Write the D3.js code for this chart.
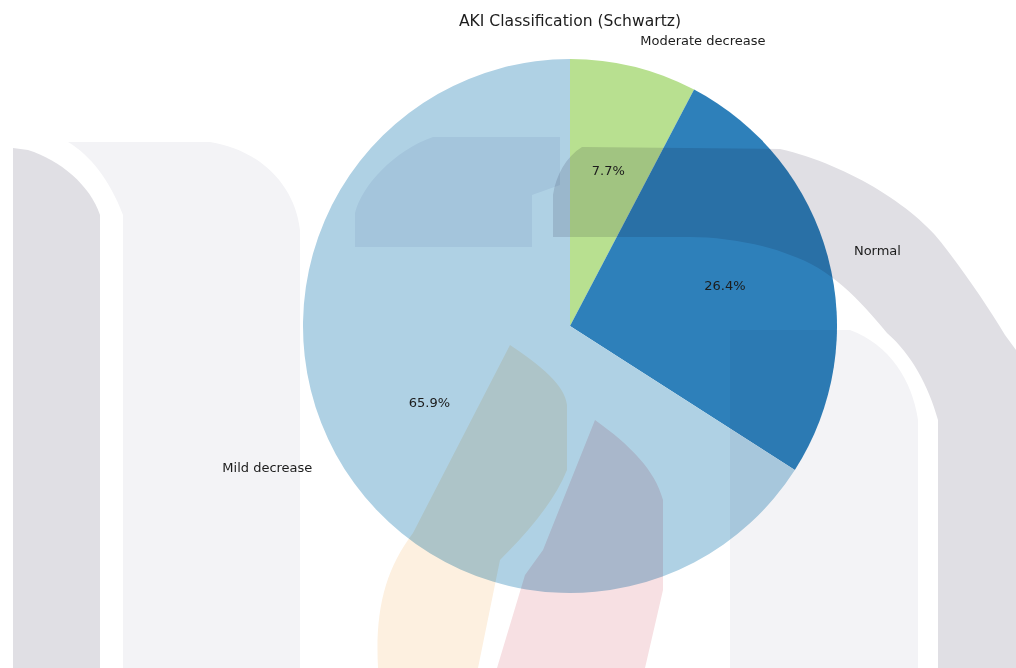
<!DOCTYPE html>
<html>
<head>
<meta charset="utf-8">
<script src="https://cdn.jsdelivr.net/npm/d3@7"></script>
<style>
  body { margin: 0; background: #fff; }
  text { font-family: "DejaVu Sans", sans-serif; fill: #1c1c1c; }
</style>
</head>
<body>
<div id="chart"></div>
<script>
// Data (counts behind the percentages)
var categories = ["Moderate decrease", "Normal", "Mild decrease"];
var counts = [7, 24, 60];
var colors = ["#b8e090", "#2e80ba", "#afd1e4"];
var title = "AKI Classification (Schwartz)";

var width = 1016,
    height = 668;

var cx = 570, cy = 326, radius = 267;

var svg = d3.select("#chart")
            .append("svg")
             .attr("width", width)
             .attr("height", height);

// faint scanned logo that sits over the page
var watermark = [
  { d: "M13,148 L28,150 C60,160 90,185 100,215 L100,668 L13,668 Z", fill: "#e0dfe4" },
  { d: "M68,142 L210,142 C260,150 295,185 300,230 L300,668 L123,668 L123,215 C110,180 90,155 68,142 Z", fill: "#f3f3f6" },
  { d: "M553,237 L553,195 C556,175 566,157 582,147 L780,149 C850,165 920,210 947,250 C970,280 990,310 1005,335 L1016,350 L1016,668 L938,668 L938,420 C928,385 912,355 887,333 C860,300 830,268 790,255 C760,243 720,237 690,237 Z", fill: "#e0dfe4" },
  { d: "M730,668 L730,330 L850,330 C890,345 912,380 918,420 L918,668 Z", fill: "#f3f3f6" },
  { d: "M355,247 L355,213 C362,185 395,150 433,137 L560,137 L560,185 L532,195 L532,247 Z", fill: "#eff1f7" },
  { d: "M510,345 C540,365 565,385 567,405 L567,470 C555,500 530,530 500,560 L478,668 L378,668 C375,610 385,570 413,533 Z", fill: "#fdf0e0" },
  { d: "M595,420 C630,445 655,470 663,500 L663,590 L645,668 L497,668 L525,575 L543,550 Z", fill: "#f7e0e3" }
];

var pie = d3.pie()
            .sort(null)
            .startAngle(0)
            .endAngle(2 * Math.PI)
            .value(function(d) { return d; });

var arcs = pie(counts);
var total = d3.sum(counts);

var arc = d3.arc().innerRadius(0).outerRadius(radius);
var labelArc = d3.arc().innerRadius(radius * 1.1).outerRadius(radius * 1.1);
var pctArc = d3.arc().innerRadius(radius * 0.6).outerRadius(radius * 0.6);

var g = svg.append("g")
           .attr("transform", "translate(" + cx + "," + cy + ")");

g.selectAll(".slice")
 .data(arcs)
 .enter()
 .append("path")
  .attr("class", "slice")
  .attr("d", arc)
  .attr("fill", function(d, i) { return colors[i]; });

// multiplied so it tints the slices like the scan
svg.append("g")
   .selectAll("path")
   .data(watermark)
   .enter()
   .append("path")
    .attr("d", function(d) { return d.d; })
    .attr("fill", function(d) { return d.fill; })
    .style("mix-blend-mode", "multiply");

var tg = svg.append("g")
            .attr("transform", "translate(" + cx + "," + cy + ")");

// outer labels
tg.selectAll(".label")
  .data(arcs)
  .enter()
  .append("text")
   .attr("class", "label")
   .attr("x", function(d) { return labelArc.centroid(d)[0]; })
   .attr("y", function(d) { return labelArc.centroid(d)[1]; })
   .attr("dy", "0.35em")
   .attr("text-anchor", function(d) { return labelArc.centroid(d)[0] > 0 ? "start" : "end"; })
   .style("font-size", "13px")
   .text(function(d, i) { return categories[i]; });

// percentages
tg.selectAll(".pct")
  .data(arcs)
  .enter()
  .append("text")
   .attr("class", "pct")
   .attr("x", function(d) { return pctArc.centroid(d)[0]; })
   .attr("y", function(d) { return pctArc.centroid(d)[1]; })
   .attr("dy", "0.35em")
   .attr("text-anchor", "middle")
   .style("font-size", "13px")
   .text(function(d) { return (d.value / total * 100).toFixed(1) + "%"; });

svg.append("text")
   .attr("x", cx)
   .attr("y", 26)
   .attr("text-anchor", "middle")
   .style("font-size", "15.6px")
   .text(title);
</script>
</body>
</html>
